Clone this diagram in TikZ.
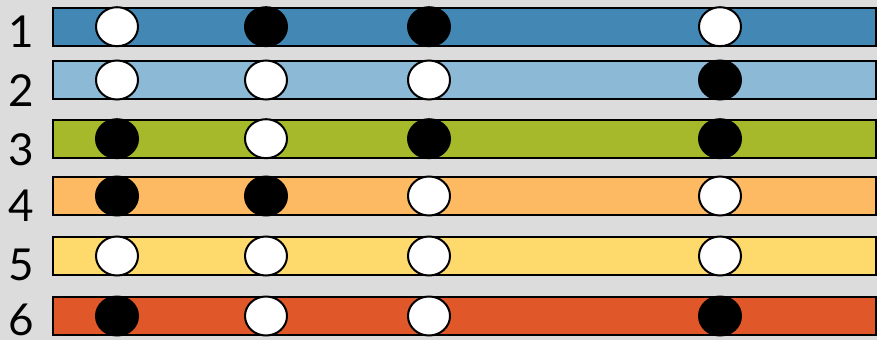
\documentclass[tikz,border=0pt]{standalone}
\usepackage{fontspec}
\setmainfont{Lato}
\usetikzlibrary{shapes.geometric}
\definecolor{bgc}{HTML}{DCDCDC}
\definecolor{cA}{HTML}{4388B4}
\definecolor{cB}{HTML}{8CBAD6}
\definecolor{cC}{HTML}{A5B92B}
\definecolor{cD}{HTML}{FDBA62}
\definecolor{cE}{HTML}{FED96C}
\definecolor{cF}{HTML}{E0572A}
\tikzset{
  barbox/.style={draw=black, line width=2pt, rectangle, minimum width=823pt, minimum height=38pt, inner sep=0pt},
  dotw/.style={ellipse, draw=black, line width=2pt, fill=white, minimum width=42pt, minimum height=39pt, inner sep=0pt},
  dotb/.style={ellipse, draw=black, line width=2pt, fill=black, minimum width=42pt, minimum height=39pt, inner sep=0pt},
  numlab/.style={anchor=base, inner sep=0pt, font=\fontsize{44}{44}\selectfont}
}
\begin{document}
\begin{tikzpicture}[x=1pt,y=-1pt]
\fill[bgc] (0,0) rectangle (877,340);
\useasboundingbox (0,0) rectangle (877,340);
\foreach \i/\yc/\yb/\col/\a/\b/\c/\d in {
  1/26.7/47/cA/dotw/dotb/dotb/dotw,
  2/80/106/cB/dotw/dotw/dotw/dotb,
  3/138.7/165/cC/dotb/dotw/dotb/dotb,
  4/196/221/cD/dotb/dotb/dotw/dotw,
  5/256/280/cE/dotw/dotw/dotw/dotw,
  6/316/335/cF/dotb/dotw/dotw/dotb}{
  \node[barbox, fill=\col] (bar\i) at (464,\yc) {};
  \node[numlab] (lab\i) at (21,\yb) {\i};
  \node[\a] (d\i a) at (117,\yc) {};
  \node[\b] (d\i b) at (266,\yc) {};
  \node[\c] (d\i c) at (429,\yc) {};
  \node[\d] (d\i d) at (720,\yc) {};
}
\end{tikzpicture}
\end{document}
